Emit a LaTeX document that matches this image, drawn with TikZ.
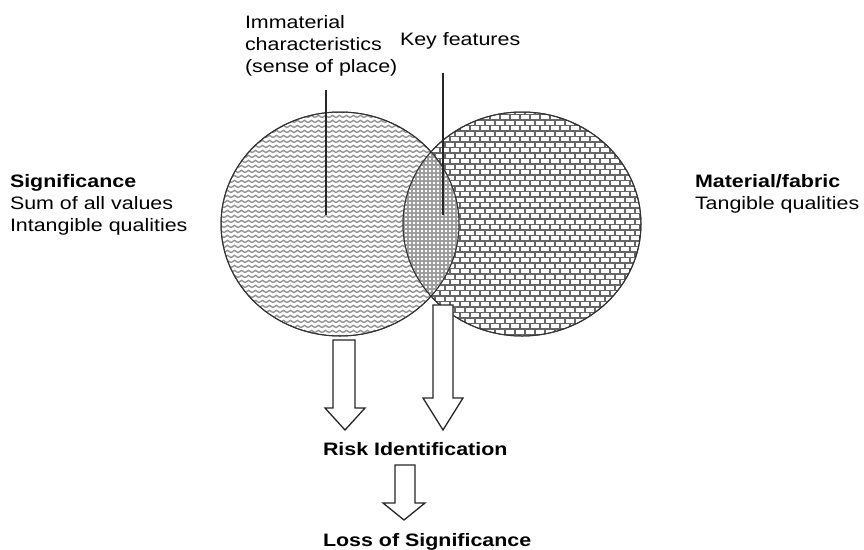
\documentclass[tikz,border=0pt]{standalone}
\usepackage{fontspec}
\setmainfont{Liberation Sans}[FakeStretch=1.19]
\usetikzlibrary{patterns,shapes.geometric}

\pgfdeclarepatternformonly{softwaves}{\pgfqpoint{-1pt}{-1pt}}{\pgfqpoint{8pt}{6pt}}{\pgfqpoint{7pt}{5pt}}{%
  \pgfsetlinewidth{1.4pt}%
  \pgfpathmoveto{\pgfqpoint{0pt}{1.4pt}}%
  \pgfpathcurveto{\pgfqpoint{1.75pt}{1.4pt}}{\pgfqpoint{1.75pt}{3.6pt}}{\pgfqpoint{3.5pt}{3.6pt}}%
  \pgfpathcurveto{\pgfqpoint{5.25pt}{3.6pt}}{\pgfqpoint{5.25pt}{1.4pt}}{\pgfqpoint{7pt}{1.4pt}}%
  \pgfusepath{stroke}}

\pgfdeclarepatternformonly{wallbricks}{\pgfqpoint{-1pt}{-1pt}}{\pgfqpoint{11pt}{12pt}}{\pgfqpoint{10pt}{11pt}}{%
  \pgfsetlinewidth{1.9pt}%
  \pgfpathmoveto{\pgfqpoint{0pt}{0pt}}\pgfpathlineto{\pgfqpoint{10pt}{0pt}}%
  \pgfpathmoveto{\pgfqpoint{0pt}{5.5pt}}\pgfpathlineto{\pgfqpoint{10pt}{5.5pt}}%
  \pgfpathmoveto{\pgfqpoint{0pt}{0pt}}\pgfpathlineto{\pgfqpoint{0pt}{5.5pt}}%
  \pgfpathmoveto{\pgfqpoint{5pt}{5.5pt}}\pgfpathlineto{\pgfqpoint{5pt}{11pt}}%
  \pgfusepath{stroke}}

\pgfdeclarepatternformonly{finegrid}{\pgfqpoint{-1pt}{-1pt}}{\pgfqpoint{5pt}{5pt}}{\pgfqpoint{4pt}{4pt}}{%
  \pgfsetlinewidth{1.1pt}%
  \pgfpathmoveto{\pgfqpoint{0pt}{0pt}}\pgfpathlineto{\pgfqpoint{4pt}{0pt}}%
  \pgfpathmoveto{\pgfqpoint{0pt}{0pt}}\pgfpathlineto{\pgfqpoint{0pt}{4pt}}%
  \pgfusepath{stroke}}

\definecolor{wavegray}{gray}{0.58}
\definecolor{brickgray}{gray}{0.4}
\definecolor{lensgray}{gray}{0.62}
\definecolor{outline}{gray}{0.2}

\begin{document}
\begin{tikzpicture}[x=1pt,y=-1pt,
  txt/.style={font=\fontsize{18}{22}\selectfont, inner sep=0pt, outer sep=0pt, align=left, anchor=base west},
  bold/.style={txt, font=\fontsize{18}{22}\selectfont\bfseries},
  circ/.style={ellipse, draw=outline, line width=1pt, minimum width=238pt, minimum height=224pt, inner sep=0pt, outer sep=0pt},
  leader/.style={draw=black!85, line width=1.6pt},
  blockarrow/.style={draw=black!85, fill=white, line width=1.3pt, line join=miter}]
\useasboundingbox (0,0) rectangle (864,549);

% circles
\node[circ, pattern=softwaves, pattern color=wavegray] (sig) at (340,224) {};
\node[circ, pattern=wallbricks, pattern color=brickgray] (mat) at (522,224) {};
% lens
\begin{scope}
  \clip (340,224) ellipse [x radius=119, y radius=112];
  \fill[white] (522,224) ellipse [x radius=119, y radius=112];
  \fill[pattern=finegrid, pattern color=lensgray] (522,224) ellipse [x radius=119, y radius=112];
\end{scope}
\draw[outline, line width=1pt] (340,224) ellipse [x radius=119, y radius=112];
\draw[outline, line width=1pt] (522,224) ellipse [x radius=119, y radius=112];

% labels (base anchor = baseline of the last line)
\node[txt] (imm) at (245,72) {Immaterial\\characteristics\\(sense of place)};
\node[txt] (key) at (400,45) {Key features};
\node[bold] (sigT) at (10,187) {Significance};
\node[txt] (sigD) at (10,231) {Sum of all values\\Intangible qualities};
\node[bold] (matT) at (695,187) {Material/fabric};
\node[txt] (matD) at (695,209) {Tangible qualities};
\node[bold] (risk) at (323,455) {Risk Identification};
\node[bold] (loss) at (323,546) {Loss of Significance};

% leader lines
\coordinate (immTop) at (326,90);
\coordinate (immEnd) at (326,215);
\coordinate (keyTop) at (443,73);
\coordinate (keyEnd) at (443,215);
\draw[leader] (immTop) -- (immEnd);
\draw[leader] (keyTop) -- (keyEnd);

% block arrows
\draw[blockarrow] (333,340) -- (355,340) -- (355,408) -- (365,408) -- (345,430) -- (325,408) -- (333,408) -- cycle;
\draw[blockarrow] (433,305) -- (453,305) -- (453,398) -- (463,398) -- (443,430) -- (423,398) -- (433,398) -- cycle;
\draw[blockarrow] (395,465) -- (415,465) -- (415,503) -- (425,503) -- (404,520) -- (383,503) -- (395,503) -- cycle;
\end{tikzpicture}
\end{document}
